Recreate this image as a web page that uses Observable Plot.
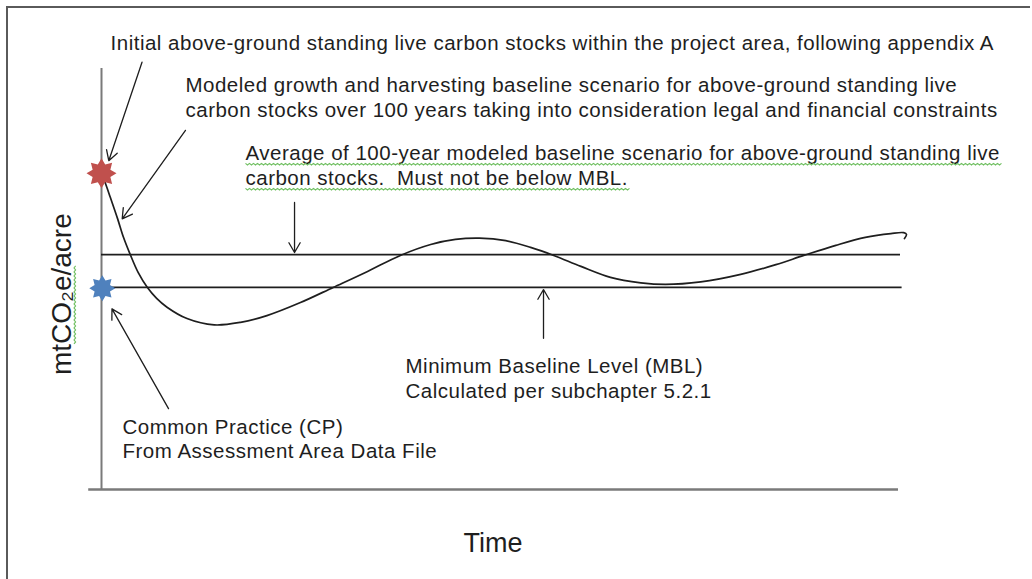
<!DOCTYPE html>
<html>
<head>
<meta charset="utf-8">
<script src="https://cdn.jsdelivr.net/npm/d3@7"></script>
<script src="https://cdn.jsdelivr.net/npm/@observablehq/plot@0.6"></script>
<style>
  html, body { margin: 0; padding: 0; background: #fff; overflow: hidden; }
  #wrap { position: relative; width: 1032px; height: 579px; overflow: hidden; }
  #frame { position: absolute; left: 6px; top: 6px; width: 1024px; height: 600px;
           border-left: 2px solid #5a5a5a; border-top: 2px solid #5a5a5a; box-sizing: border-box; }
  #chart { position: absolute; left: 0; top: 0; }
</style>
</head>
<body>
<div id="wrap"><div id="frame"></div><div id="chart"></div></div>
<script>
// ---- data (schematic values) ----
const years  = [0, 0.5, 1.1, 2.0, 2.75, 3.6, 4.6, 5.7, 6.9, 8.2, 10.7, 14.1, 17.4, 20.7, 24.9, 29.0, 33.3, 37.4, 41.2, 44.3, 47.3, 50.6, 53.7, 56.6, 60.0, 63.7, 67.5, 70.6, 75.0, 80.0, 84.4, 87.9, 91.9, 95.6, 98.8, 100.4, 100.75, 100.5];
const stocks = [75.1, 72.7, 69.4, 64.4, 59.9, 55.8, 51.5, 48.1, 45.4, 43.3, 40.6, 39.1, 39.7, 41.3, 44.4, 48.0, 51.8, 55.6, 58.2, 59.4, 59.7, 59.1, 57.5, 55.6, 53.0, 50.4, 49.1, 48.7, 49.3, 51.1, 53.4, 55.6, 58.0, 59.9, 60.8, 61.0, 60.6, 59.6];
const initialStock = 75.1;
const averageStock = 55.8;
const mblStock = 48.0;
const cpStock = 47.8;
const xLabel = "Time";
const yLabel = "mtCO\u2082e/acre";
const noteText = [
  "Initial above-ground standing live carbon stocks within the project area, following appendix A",
  "Modeled growth and harvesting baseline scenario for above-ground standing live\ncarbon stocks over 100 years taking into consideration legal and financial constraints",
  "Average of 100-year modeled baseline scenario for above-ground standing live\ncarbon stocks.  Must not be below MBL.",
  "Minimum Baseline Level (MBL)\nCalculated per subchapter 5.2.1",
  "Common Practice (CP)\nFrom Assessment Area Data File"
];

// ---- layout (annotation anchors in chart units) ----
const noteX = [1.13, 10.51, 18.02, 38.05, 2.63];
const noteY = [108.6, 98.5, 82.5, 31.7, 17.4];
const arrowX1 = [5.07, 10.51, 24.16, 55.32, 8.39];
const arrowY1 = [101.5, 85.3, 68.2, 35.9, 19.2];
const arrowX2 = [0.91, 2.59, 24.16, 55.32, 1.31];
const arrowY2 = [78.1, 64.3, 56.3, 47.5, 42.9];

const curve = years.map((t, i) => ({t, v: stocks[i]}));
const notes = noteText.map((text, i) => ({text, x: noteX[i], y: noteY[i]}));
const avgNote = notes[2];
const otherNotes = notes.filter((d, i) => i !== 2);
const arrows = arrowX1.map((x1, i) => ({x1, y1: arrowY1[i], x2: arrowX2[i], y2: arrowY2[i]}));

const star8 = {
  draw(ctx, size) {
    const R = Math.sqrt(size / Math.PI), r = R * 0.64, n = 8;
    for (let i = 0; i < 2 * n; i++) {
      const a = i * Math.PI / n - Math.PI / 2;
      const rad = i % 2 ? r : R;
      const px = Math.cos(a) * rad, py = Math.sin(a) * rad;
      if (i) ctx.lineTo(px, py); else ctx.moveTo(px, py);
    }
    ctx.closePath();
  }
};

const ink = "#1e1e1e";
const noteFont = 20.5;
const chart = Plot.plot({
  width: 1032,
  height: 579,
  marginLeft: 101,
  marginRight: 132,
  marginTop: 68,
  marginBottom: 90,
  x: {domain: [0, 100], axis: null},
  y: {domain: [0, 100], axis: null},
  style: {fontFamily: "'Liberation Sans', Arial, sans-serif", fontSize: "20px", background: "transparent", overflow: "visible"},
  marks: [
    // axes
    Plot.ruleX([0], {y1: 0, y2: 100, stroke: "#7a7a7a", strokeWidth: 2}),
    Plot.ruleY([0], {x1: -1.6, x2: 99.75, stroke: "#7a7a7a", strokeWidth: 2.5}),
    // reference levels
    Plot.ruleY([averageStock], {x1: 0, x2: 100, stroke: ink, strokeWidth: 1.6}),
    Plot.ruleY([mblStock], {x1: 0, x2: 100.2, stroke: ink, strokeWidth: 1.6}),
    // modeled baseline
    Plot.line(curve, {x: "t", y: "v", curve: "catmull-rom", stroke: ink, strokeWidth: 1.7}),
    // stars
    Plot.dot([initialStock], {x: 0, y: d => d, r: 15, fill: "#C0504D", symbol: star8, stroke: null}),
    Plot.dot([cpStock], {x: 0.1, y: d => d, r: 13, fill: "#4F81BD", symbol: star8, stroke: null}),
    // arrows
    Plot.arrow(arrows, {x1: "x1", y1: "y1", x2: "x2", y2: "y2", stroke: ink, strokeWidth: 1.3, headLength: 13, headAngle: 60}),
    // notes
    Plot.text(otherNotes, {x: "x", y: "y", text: "text", textAnchor: "start", lineAnchor: "top", lineHeight: 1.19, fontSize: noteFont, fill: ink}),
    Plot.text([avgNote], {x: "x", y: "y", text: "text", textAnchor: "start", lineAnchor: "top", lineHeight: 1.22, fontSize: noteFont, fill: ink}),
    // axis labels
    Plot.text([xLabel], {x: 49.0, y: -12.9, text: d => d, fontSize: 27, fill: ink}),
    Plot.text([yLabel], {x: -5.0, y: 46.4, text: d => d, fontSize: 28, rotate: -90, fill: ink})
  ]
});
document.getElementById("chart").appendChild(chart);

// text spacing to mimic the original rendering, and spell-check style green squiggles (decoration only)
const flat = s => s.replace(/\n/g, "");
const allTexts = Array.from(chart.querySelectorAll("text"));
allTexts.forEach(t => {
  if (noteText.some(s => flat(s) === t.textContent)) {
    t.style.letterSpacing = "0.5px";
    t.style.whiteSpace = "pre";
  }
});
function squiggle(textEl, el, from, to) {
  const n = el.getNumberOfChars();
  if (!n) return;
  const a = Math.max(0, from), b = Math.min(n - 1, to);
  const s = el.getStartPositionOfChar(a);
  const e = el.getEndPositionOfChar(b);
  const y0 = s.y + 3.5, step = 2;
  let d = `M${s.x},${y0}`;
  for (let x = s.x, k = 0; x < e.x; x += step, k++) d += `L${x + step},${y0 + (k % 2 ? 0 : 1.6)}`;
  const p = document.createElementNS("http://www.w3.org/2000/svg", "path");
  p.setAttribute("d", d);
  p.setAttribute("fill", "none");
  p.setAttribute("stroke", "#6fbf60");
  p.setAttribute("stroke-width", "1.1");
  const tr = textEl.getAttribute("transform");
  if (tr) p.setAttribute("transform", tr);
  textEl.parentNode.appendChild(p);
}
try {
  allTexts.forEach(t => {
    if (t.textContent === flat(noteText[2])) {
      t.querySelectorAll("tspan").forEach(sp => squiggle(t, sp, 0, sp.getNumberOfChars() - 1));
    } else if (t.textContent === yLabel) {
      squiggle(t, t, 2, 6);
    }
  });
} catch (err) { console.error(err); }
</script>
</body>
</html>
